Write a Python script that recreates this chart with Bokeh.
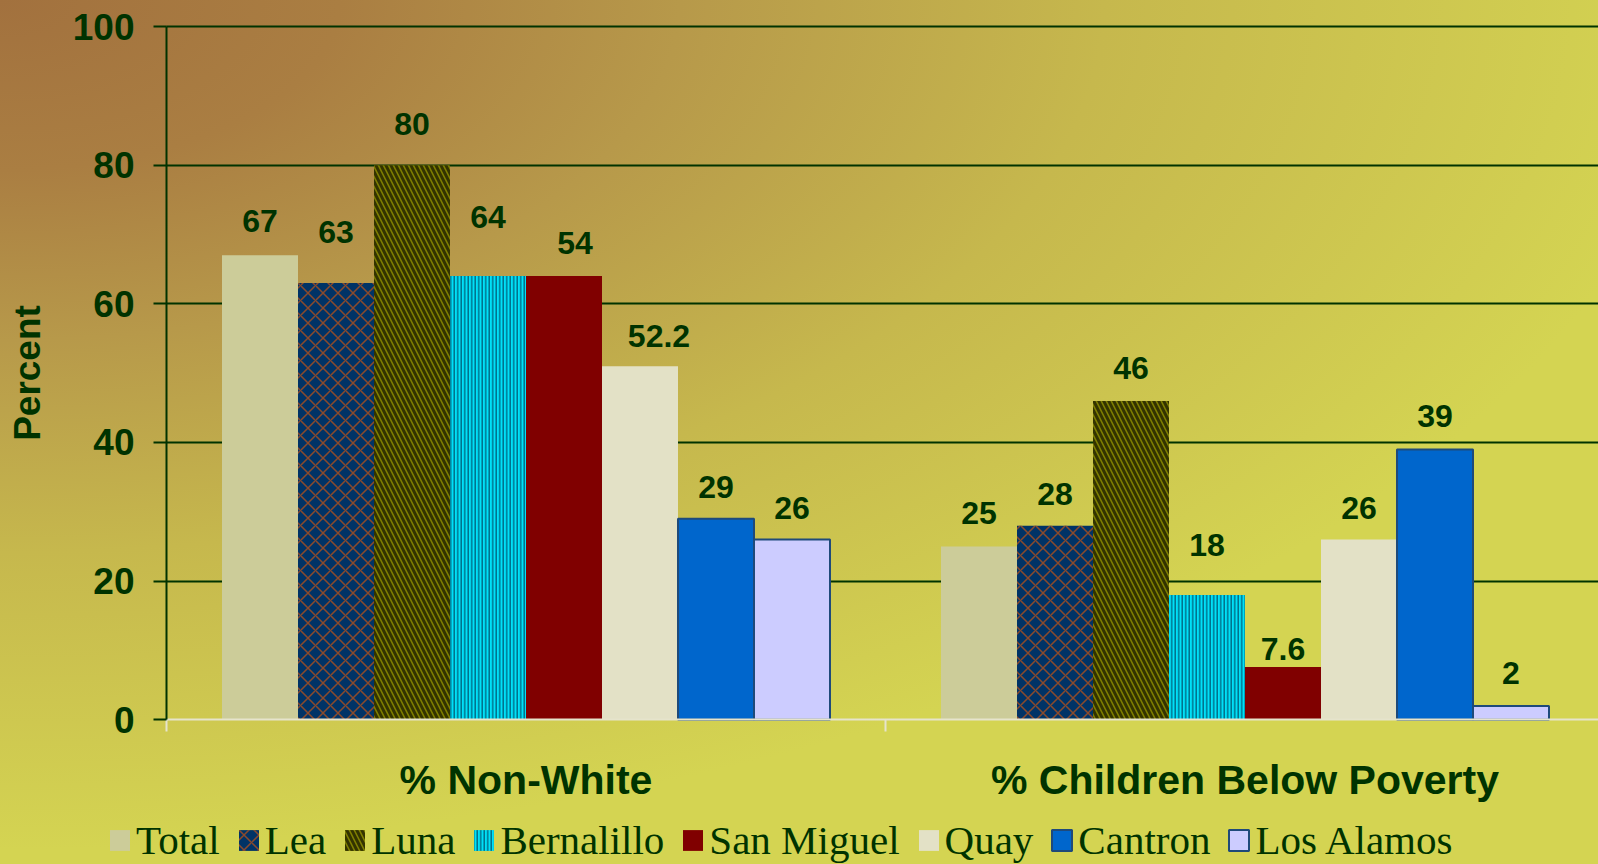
from bokeh.plotting import figure
from bokeh.models import (Range1d, FixedTicker, Legend, LegendItem, ColumnDataSource,
                          InlineStyleSheet)
from bokeh.core.properties import value
from bokeh.embed import file_html
from bokeh.resources import INLINE

# ---------------- data ----------------
categories = ["% Non-White", "% Children Below Poverty"]
series = ["Total", "Lea", "Luna", "Bernalillo", "San Miguel", "Quay", "Cantron", "Los Alamos"]
non_white_bars = [67, 63, 80, 64, 64, 51, 29, 26]
non_white_labels = ["67", "63", "80", "64", "54", "52.2", "29", "26"]
poverty_bars = [25, 28, 46, 18, 7.6, 26, 39, 2]
poverty_labels = ["25", "28", "46", "18", "7.6", "26", "39", "2"]
y_ticks = [0, 20, 40, 60, 80, 100]

# ---------------- styles ----------------
GREEN = "#003300"
fills = ["#cccc99", "#003366", "#808000", "#00e0f8", "#800000", "#e3e1c6", "#0066cc", "#ccccff"]
hatch_patterns = [None, "x", "\\", "|", None, None, None, None]
hatch_colors = [None, "#8b4a2b", "#333300", "#00718c", None, None, None, None]
hatch_scales = [12, 15, 10, 3.5, 12, 12, 12, 12]
hatch_weights = [1, 1.5, 3, 1.5, 1, 1, 1, 1]
outline = [None, None, None, None, None, None, "#1f4a7a", "#1f4a7a"]
bar_w = 76 / 719
# label offsets (px) as drawn in the reference
nw_dx = [0, 0, 0, 0, 11, 19, 0, 0]
nw_dy = [-34, -51, -41, -59, -33, -30, -32, -32]
pv_dx = [0, 0, 0, 0, 0, 0, 0, 0]
pv_dy = [-33, -32, -33, -50, -18, -32, -33, -33]

W, H = 1598, 864
X0_PX, Y0_PX = 166, 719.3                   # axis origin on the page
PX_X, PX_Y = 719.0, 6.933                   # px per category, px per percent
GRAD = "#a2713e 0%, #aa7e42 20%, #b7994a 40%, #c6b84d 65%, #d4d452 100%"
css = ":host { background: radial-gradient(ellipse 1700px 850px at 0px 0px, %s); }" % GRAD

x_start, x_end = -X0_PX / PX_X, (W - X0_PX) / PX_X
y_start, y_end = -(H - Y0_PX) / PX_Y, Y0_PX / PX_Y

p = figure(width=W, height=H, output_backend="svg", toolbar_location=None,
           x_range=Range1d(x_start, x_end), y_range=Range1d(y_start, y_end),
           min_border_left=0, min_border_right=0, min_border_top=0,
           min_border_bottom=0)
p.stylesheets = [InlineStyleSheet(css=css)]
p.background_fill_color = None
p.border_fill_color = None
p.outline_line_color = None

# grid
p.xgrid.grid_line_color = None
p.ygrid.ticker = FixedTicker(ticks=y_ticks[1:])
p.ygrid.grid_line_color = GREEN
p.ygrid.grid_line_width = 2
if hasattr(p.ygrid[0], "cross_bounds"):
    p.ygrid.cross_bounds = (0, x_end)

# y axis (fixed at x = 0 so the frame can fill the page)
ya = p.yaxis[0]
ya.fixed_location = 0
ya.ticker = FixedTicker(ticks=y_ticks)
ya.bounds = (0, 100)
ya.axis_line_color = GREEN
ya.axis_line_width = 2
ya.major_tick_line_color = GREEN
ya.major_tick_line_width = 2
ya.major_tick_out = 13
ya.major_tick_in = 0
ya.minor_tick_line_color = None
ya.major_label_standoff = 19
ya.major_label_text_font = "Liberation Sans"
ya.major_label_text_font_style = "bold"
ya.major_label_text_font_size = "37px"
ya.major_label_text_color = GREEN
ya.axis_label = "Percent"
ya.axis_label_text_font = "Liberation Sans"
ya.axis_label_text_font_style = "bold"
ya.axis_label_text_font_size = "37px"
ya.axis_label_text_color = GREEN
ya.axis_label_standoff = 22

# x axis (fixed at y = 0)
xa = p.xaxis[0]
xa.fixed_location = 0
xa.bounds = (0, x_end)
xa.ticker = FixedTicker(ticks=[0.5, 1.5], minor_ticks=[0, 1])
xa.major_label_overrides = {0.5: categories[0], 1.5: categories[1]}
xa.axis_line_color = "#e6e4cc"
xa.axis_line_width = 2
xa.major_tick_line_color = None
xa.major_tick_out = 12
xa.major_tick_in = 0
xa.minor_tick_line_color = "#e6e4cc"
xa.minor_tick_line_width = 2
xa.minor_tick_out = 12
xa.minor_tick_in = 0
xa.major_label_standoff = 25
xa.major_label_text_font = "Liberation Sans"
xa.major_label_text_font_style = "bold"
xa.major_label_text_font_size = "41px"
xa.major_label_text_color = GREEN


def bar_style(i):
    kw = dict(fill_color=fills[i], line_color=outline[i],
              line_width=2 if outline[i] else 0)
    if hatch_patterns[i]:
        kw.update(hatch_pattern=hatch_patterns[i], hatch_color=hatch_colors[i],
                  hatch_scale=hatch_scales[i], hatch_weight=hatch_weights[i])
    return kw


# bars
items = []
for i, name in enumerate(series):
    off = (i - (len(series) - 1) / 2) * bar_w
    src = ColumnDataSource(dict(x=[0.5 + off, 1.5 + off],
                                top=[non_white_bars[i], poverty_bars[i]]))
    r = p.vbar(x="x", top="top", bottom=0, width=bar_w, source=src, **bar_style(i))
    items.append(LegendItem(label=name, renderers=[r]))

# value labels
lx, ly, lt, ldx, ldy = [], [], [], [], []
for c, (bars, labs, dxs, dys) in enumerate([(non_white_bars, non_white_labels, nw_dx, nw_dy),
                                             (poverty_bars, poverty_labels, pv_dx, pv_dy)]):
    for i in range(len(series)):
        off = (i - (len(series) - 1) / 2) * bar_w
        lx.append(c + 0.5 + off)
        ly.append(bars[i])
        lt.append(labs[i])
        ldx.append(dxs[i])
        ldy.append(dys[i])
lsrc = ColumnDataSource(dict(x=lx, y=ly, t=lt, dx=ldx, dy=ldy))
p.text(x="x", y="y", text="t", x_offset="dx", y_offset="dy", source=lsrc,
       text_align="center", text_baseline="middle",
       text_font=value("Liberation Sans"), text_font_style="bold",
       text_font_size="32px", text_color=GREEN)

legend = Legend(items=items, orientation="horizontal", location=(107, 0),
                label_text_font="Liberation Serif", label_text_font_size="41px",
                label_text_color=GREEN, glyph_width=25, glyph_height=26,
                label_standoff=4, spacing=16, padding=0, margin=0,
                background_fill_alpha=0, border_line_color=None)
p.add_layout(legend)

open("out.html", "w").write(file_html(p, INLINE))
